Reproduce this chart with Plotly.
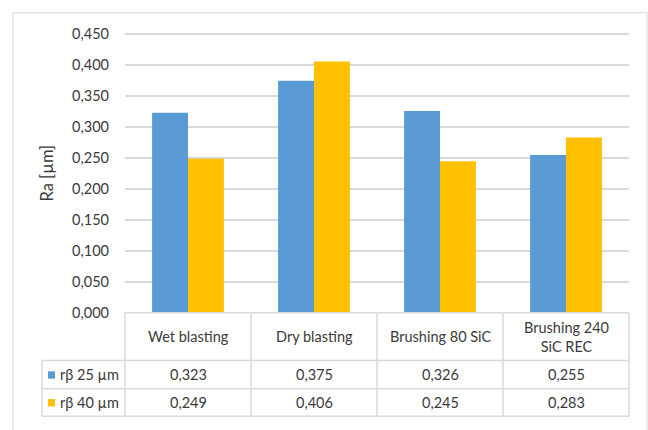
import plotly.graph_objects as go

# ---------------- data ----------------
categories = ["Wet blasting", "Dry blasting", "Brushing 80 SiC", "Brushing 240<br>SiC REC"]
series_names = ["rβ 25 µm", "rβ 40 µm"]
r25 = [0.323, 0.375, 0.326, 0.255]
r40 = [0.249, 0.406, 0.245, 0.283]
y_ticks = [0.0, 0.05, 0.10, 0.15, 0.20, 0.25, 0.30, 0.35, 0.40, 0.45]
y_title = "Ra [µm]"

series_values = [r25, r40]
colors = ["#5B9BD5", "#FFC000"]

# ---------------- layout helpers ----------------
W, H = 648, 430
def px(x):
    return x / W
def py(y):
    return 1 - y / H

FONT = "Lato"
TXT = "#3a3a3a"
GRID = "#D9D9D9"

plot_l, plot_r = 125, 629
y_zero, y_top_tick = 318, 32
unit = (y_zero - y_top_tick) / y_ticks[-1]
y_max = 0.46
top_px = y_zero - y_max * unit

fig = go.Figure()
for name, vals, col in zip(series_names, series_values, colors):
    fig.add_trace(go.Bar(
        x=categories, y=vals, name=name,
        marker=dict(color=col, line=dict(width=0)),
        hoverinfo="x+y",
    ))

# table row boundaries (px)
row_top = y_zero
row_h1 = 367
row_h2 = 396
row_bot = 424
leg_l = 42

shapes = []
# outer chart border
shapes.append(dict(type="rect", xref="paper", yref="paper",
                   x0=px(13), x1=px(647), y0=py(440), y1=py(10),
                   line=dict(color=GRID, width=1), layer="below"))
# horizontal table lines
shapes.append(dict(type="line", xref="paper", yref="paper", x0=px(plot_l), x1=px(plot_r),
                   y0=py(row_top), y1=py(row_top), line=dict(color=GRID, width=1.5)))
for yy in (row_h1, row_h2, row_bot):
    shapes.append(dict(type="line", xref="paper", yref="paper", x0=px(leg_l), x1=px(plot_r),
                       y0=py(yy), y1=py(yy), line=dict(color=GRID, width=1.5)))
# vertical table lines
ncat = len(categories)
colw = (plot_r - plot_l) / ncat
for i in range(ncat + 1):
    xx = plot_l + i * colw
    shapes.append(dict(type="line", xref="paper", yref="paper", x0=px(xx), x1=px(xx),
                       y0=py(row_top), y1=py(row_bot), line=dict(color=GRID, width=1.5)))
shapes.append(dict(type="line", xref="paper", yref="paper", x0=px(leg_l), x1=px(leg_l),
                   y0=py(row_h1), y1=py(row_bot), line=dict(color=GRID, width=1.5)))

annotations = []
# header row
for cat in categories:
    annotations.append(dict(x=cat, xref="x", y=py((row_top + row_h1) / 2), yref="paper",
                            text=cat, showarrow=False, xanchor="center", yanchor="middle",
                            font=dict(family=FONT, size=14.5, color=TXT)))
# data rows
row_centers = [(row_h1 + row_h2) / 2, (row_h2 + row_bot) / 2]
for name, vals, col, yc in zip(series_names, series_values, colors, row_centers):
    shapes.append(dict(type="rect", xref="paper", yref="paper",
                       x0=px(48), x1=px(55), y0=py(yc + 4), y1=py(yc - 3.5),
                       fillcolor=col, line=dict(width=0)))
    annotations.append(dict(x=px(58), xref="paper", y=py(yc), yref="paper",
                            text=name, showarrow=False, xanchor="left", yanchor="middle",
                            font=dict(family=FONT, size=14.5, color=TXT)))
    for cat, v in zip(categories, vals):
        annotations.append(dict(x=cat, xref="x", y=py(yc), yref="paper",
                                text=f"{v:.3f}".replace(".", ","), showarrow=False,
                                xanchor="center", yanchor="middle",
                                font=dict(family=FONT, size=14.5, color=TXT)))
# y title
annotations.append(dict(x=px(47), xref="paper", y=py(175), yref="paper", text=y_title,
                        textangle=-90, showarrow=False, xanchor="center", yanchor="middle",
                        font=dict(family=FONT, size=16.5, color=TXT)))

fig.update_layout(
    width=W, height=H,
    margin=dict(l=0, r=0, t=0, b=0),
    paper_bgcolor="white", plot_bgcolor="white",
    separators=",.",
    barmode="group", bargap=0.43, bargroupgap=0,
    showlegend=False,
    font=dict(family=FONT, size=14, color=TXT),
    xaxis=dict(domain=[px(plot_l), px(plot_r)], showticklabels=False, showgrid=False,
               zeroline=False, showline=False, ticks=""),
    yaxis=dict(domain=[py(y_zero), py(top_px)], range=[0, y_max],
               tickvals=y_ticks, tickformat=".3f", showgrid=True, gridcolor=GRID,
               gridwidth=1.5, zeroline=False, showline=False, ticks="",
               ticklabelstandoff=15, tickfont=dict(family=FONT, size=14.5, color=TXT)),
    shapes=shapes,
    annotations=annotations,
)

fig.write_html("out.html")
